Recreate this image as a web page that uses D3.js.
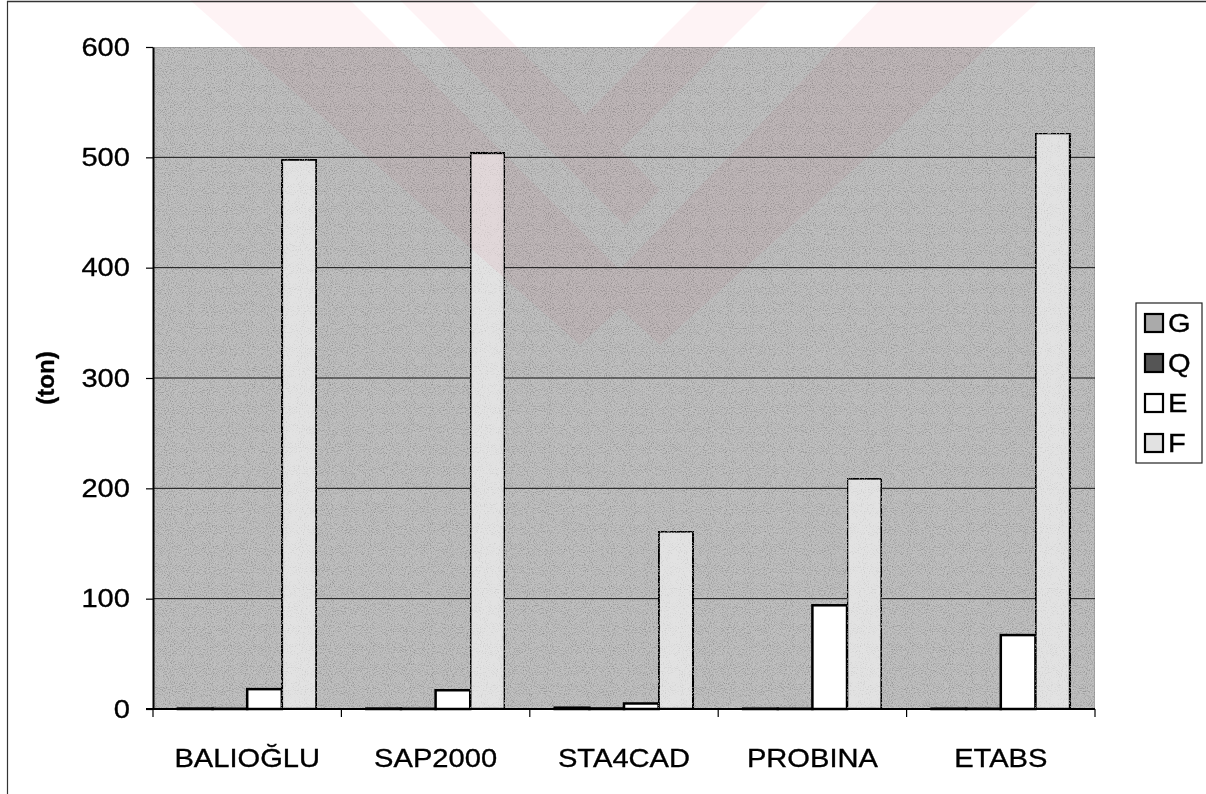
<!DOCTYPE html>
<html>
<head>
<meta charset="utf-8">
<script src="https://cdn.jsdelivr.net/npm/d3@7"></script>
<style>
  html, body { margin: 0; padding: 0; background: #fff; }
  svg text { font-family: "Liberation Sans", Arial, sans-serif; fill: #000; stroke: #000; stroke-width: 0.35px; }
</style>
</head>
<body>
<svg id="chart" width="1206" height="794"></svg>
<script>
// Programs compared
const categories = ["BALIOĞLU", "SAP2000", "STA4CAD", "PROBINA", "ETABS"];
// Load components (ton)
const seriesNames = ["G", "Q", "E", "F"];
const gValues = [0.4, 0.4, 1.2, 0.3, 0.3];
const qValues = [0.2, 0.2, 0.5, 0.2, 0.2];
const eValues = [18, 17, 5, 94, 67];
const fValues = [498, 504, 161, 209, 522];
const yTicks = [0, 100, 200, 300, 400, 500, 600];
const yTitle = "(ton)";

const seriesValues = { G: gValues, Q: qValues, E: eValues, F: fValues };
const seriesFill = { G: "#aaaaaa", Q: "#555555", E: "#ffffff", F: "#e2e2e2" };

const svg = d3.select("#chart");
const plot = { left: 153, right: 1095, top: 47, bottom: 709 };
const textStretch = 1.12;

// Grain texture used for the plot background and light bars
const defs = svg.append("defs");
function addGrain(id, seed, level, amount, bias) {
  const f = defs.append("filter").attr("id", id)
    .attr("x", 0).attr("y", 0).attr("width", 1).attr("height", 1);
  f.append("feTurbulence").attr("type", "fractalNoise")
    .attr("baseFrequency", 0.95).attr("numOctaves", 2).attr("seed", seed).attr("result", "noise");
  f.append("feColorMatrix").attr("in", "noise").attr("type", "matrix")
    .attr("values", `0 0 0 0 ${level}  0 0 0 0 ${level}  0 0 0 0 ${level}  0 0 0 ${amount} ${bias}`)
    .attr("result", "speck");
  f.append("feComposite").attr("in", "speck").attr("in2", "SourceGraphic").attr("operator", "in").attr("result", "dots");
  f.append("feMerge").call(m => {
    m.append("feMergeNode").attr("in", "SourceGraphic");
    m.append("feMergeNode").attr("in", "dots");
  });
}
addGrain("grain", 3, 0.25, -2.2, 1.22);
addGrain("grainLight", 7, 0.55, -2.4, 1.1);

// Outer frame (top and left edges)
svg.append("line").attr("x1", 7).attr("x2", 1206).attr("y1", 1.5).attr("y2", 1.5)
  .attr("stroke", "#333").attr("stroke-width", 1.5);
svg.append("line").attr("x1", 7.5).attr("x2", 7.5).attr("y1", 1).attr("y2", 794)
  .attr("stroke", "#333").attr("stroke-width", 1.2);

// Scales
const x0 = d3.scaleBand().domain(categories).range([plot.left, plot.right]).padding(0);
const x1 = d3.scaleBand().domain(seriesNames).range([0, x0.bandwidth()])
  .paddingInner(0).paddingOuter(0.72);
const y = d3.scaleLinear().domain([0, 600]).range([plot.bottom, plot.top]);

// Plot background
svg.append("rect")
  .attr("x", plot.left).attr("y", plot.top)
  .attr("width", plot.right - plot.left).attr("height", plot.bottom - plot.top)
  .attr("fill", "#c0c0c0").attr("stroke", "#8a8a8a").attr("stroke-width", 1)
  .attr("filter", "url(#grain)");

// Gridlines
svg.append("g").selectAll("line")
  .data(yTicks.filter(d => d > 0 && d < 600))
  .join("line")
  .attr("x1", plot.left).attr("x2", plot.right)
  .attr("y1", d => y(d)).attr("y2", d => y(d))
  .attr("stroke", "#111").attr("stroke-width", 1);

// Bars
const groups = svg.append("g").selectAll("g")
  .data(categories)
  .join("g")
  .attr("transform", d => `translate(${x0(d)},0)`);

groups.selectAll("rect")
  .data((c, i) => seriesNames.map(s => ({ s, v: seriesValues[s][i] })))
  .join("rect")
  .attr("x", d => x1(d.s))
  .attr("y", d => y(d.v))
  .attr("width", x1.bandwidth())
  .attr("height", d => y(0) - y(d.v))
  .attr("fill", d => seriesFill[d.s])
  .attr("stroke", "#000")
  .attr("stroke-width", 2.5)
  .attr("filter", d => d.s === "F" ? "url(#grainLight)" : null);

// Y axis
const yAxis = svg.append("g")
  .attr("transform", `translate(${plot.left},0)`)
  .call(d3.axisLeft(y).tickValues(yTicks).tickSize(7).tickPadding(0).tickSizeOuter(0));
yAxis.select(".domain").attr("stroke", "#000").attr("stroke-width", 2);
yAxis.selectAll(".tick line").attr("stroke", "#000").attr("stroke-width", 1.2);
yAxis.selectAll("text")
  .attr("x", 0)
  .attr("transform", `translate(-23,0) scale(${textStretch},1)`)
  .style("font-size", "26px")
  .style("font-family", "'Liberation Sans', Arial, sans-serif").attr("fill", "#000");

// X axis: ticks sit on category boundaries
const xAxis = svg.append("g").attr("transform", `translate(0,${plot.bottom})`);
xAxis.append("line").attr("x1", plot.left - 7).attr("x2", plot.right)
  .attr("y1", 0).attr("y2", 0).attr("stroke", "#000").attr("stroke-width", 2.2);
const boundaries = categories.map(c => x0(c)).concat([x0(categories[categories.length - 1]) + x0.bandwidth()]);
xAxis.selectAll("line.tick").data(boundaries).join("line")
  .attr("class", "tick")
  .attr("x1", d => d).attr("x2", d => d).attr("y1", 0).attr("y2", 8)
  .attr("stroke", "#000").attr("stroke-width", 1.2);
xAxis.selectAll("text").data(categories).join("text")
  .attr("transform", d => `translate(${x0(d) + x0.bandwidth() / 2},58) scale(${textStretch},1)`)
  .attr("text-anchor", "middle")
  .style("font-size", "26px")
  .text(d => d);

// Y axis title
svg.append("text")
  .attr("transform", `translate(54,${(plot.top + plot.bottom) / 2}) rotate(-90)`)
  .attr("text-anchor", "middle")
  .style("font-size", "24px").style("font-weight", "bold")
  .text(yTitle);

// Legend
const legendX = 1136, legendY = 303, rowH = 40;
const legend = svg.append("g");
legend.append("rect")
  .attr("x", legendX).attr("y", legendY)
  .attr("width", 66).attr("height", rowH * seriesNames.length)
  .attr("fill", "#fff").attr("stroke", "#222").attr("stroke-width", 1.2);
const items = legend.selectAll("g.item").data(seriesNames).join("g")
  .attr("class", "item")
  .attr("transform", (d, i) => `translate(${legendX + 9},${legendY + 20 + i * rowH})`);
items.append("rect")
  .attr("x", 0).attr("y", -9).attr("width", 18).attr("height", 18)
  .attr("fill", d => seriesFill[d]).attr("stroke", "#000").attr("stroke-width", 2.2);
items.append("text")
  .attr("transform", `translate(23,9) scale(${textStretch},1)`)
  .style("font-size", "26px")
  .text(d => d);

// Faint pink emblem printed across the upper part of the page
const emblem = svg.append("g").attr("fill", "#f0506e").attr("opacity", 0.07)
  .style("mix-blend-mode", "multiply");
const emblemShapes = [
  [[190, 0], [350, 0], [640, 290], [580, 345]],
  [[400, 0], [470, 0], [660, 190], [625, 225]],
  [[880, 0], [1040, 0], [660, 345], [600, 290]],
  [[700, 0], [770, 0], [600, 170], [565, 135]]
];
emblem.selectAll("polygon").data(emblemShapes).join("polygon")
  .attr("points", d => d.map(p => p.join(",")).join(" "));
</script>
</body>
</html>
